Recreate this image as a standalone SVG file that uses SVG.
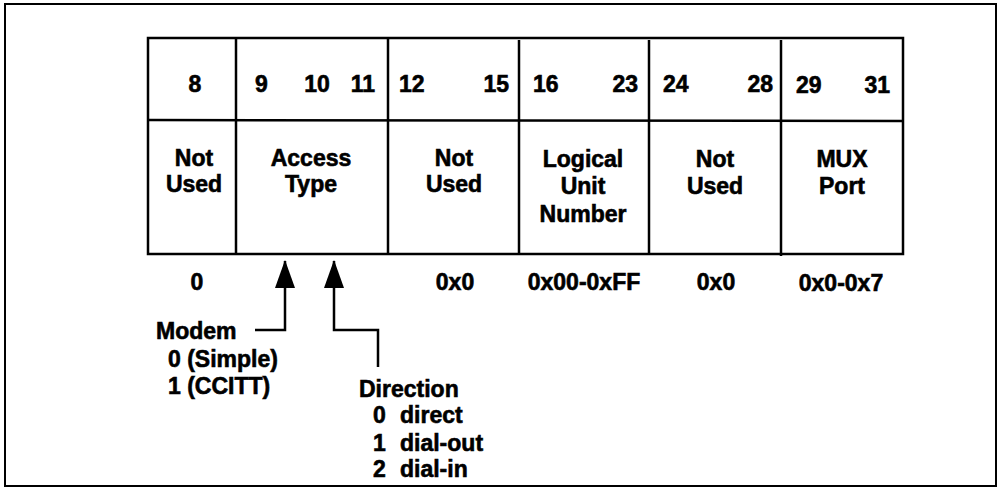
<svg xmlns="http://www.w3.org/2000/svg" width="1001" height="489" viewBox="0 0 1001 489">
<defs>
<style>
text{font-family:"Liberation Sans",Arial,sans-serif;font-weight:bold;font-size:23px;fill:#000;stroke:#000;stroke-width:0.6}
.c{text-anchor:middle}
.e{text-anchor:end}
.ln{stroke:#000;stroke-width:2.5;fill:none}
</style>
<marker id="ah" viewBox="0 0 28 20" refX="27" refY="10" markerWidth="28" markerHeight="20" markerUnits="userSpaceOnUse" orient="auto">
<path d="M0,0 L28,10 L0,20 Z" fill="#000"/>
</marker>
</defs>
<rect width="1001" height="489" fill="#fff"/>
<rect x="5" y="4" width="991" height="482" fill="none" stroke="#000" stroke-width="2"/>
<g id="table">
<rect x="148" y="38" width="755" height="216" class="ln"/>
<line x1="148" y1="120" x2="903" y2="121" class="ln"/>
</g>
<g id="f8">
<line x1="236" y1="38" x2="236" y2="254" class="ln"/>
<text x="195" y="92" class="c">8</text>
<text x="194" y="166" class="c">Not</text>
<text x="194" y="192" class="c">Used</text>
<text x="197" y="290" class="c">0</text>
</g>
<g id="f9">
<line x1="388" y1="38" x2="388" y2="254" class="ln"/>
<text x="255" y="92">9</text>
<text x="317" y="92" class="c">10</text>
<text x="375" y="92" class="e">11</text>
<text x="311" y="166" class="c">Access</text>
<text x="311" y="192" class="c">Type</text>
</g>
<g id="f12">
<line x1="519" y1="40" x2="519" y2="254" class="ln"/>
<text x="399" y="92">12</text>
<text x="509" y="92" class="e">15</text>
<text x="454" y="166" class="c">Not</text>
<text x="454" y="192" class="c">Used</text>
<text x="455" y="290" class="c">0x0</text>
</g>
<g id="f16">
<line x1="649" y1="40" x2="649" y2="255" class="ln"/>
<text x="533" y="92">16</text>
<text x="638" y="92" class="e">23</text>
<text x="583" y="167" class="c">Logical</text>
<text x="583" y="194" class="c">Unit</text>
<text x="583" y="222" class="c">Number</text>
<text x="584" y="290" class="c">0x00-0xFF</text>
</g>
<g id="f24">
<line x1="781" y1="40" x2="781" y2="256" class="ln"/>
<text x="663" y="92">24</text>
<text x="773" y="92" class="e">28</text>
<text x="715" y="167" class="c">Not</text>
<text x="715" y="194" class="c">Used</text>
<text x="716" y="290" class="c">0x0</text>
</g>
<g id="f29">
<text x="796" y="93">29</text>
<text x="890" y="93" class="e">31</text>
<text x="842" y="167" class="c">MUX</text>
<text x="842" y="194" class="c">Port</text>
<text x="841" y="291" class="c">0x0-0x7</text>
</g>
<g id="connectors">
<path d="M255,330 H285 V261" class="ln" marker-end="url(#ah)"/>
<path d="M378,367 V330 H334 V261" class="ln" marker-end="url(#ah)"/>
</g>
<g id="modem">
<text x="156" y="339">Modem</text>
<text x="168" y="367">0 (Simple)</text>
<text x="168" y="394">1 (CCITT)</text>
</g>
<g id="direction">
<text x="359" y="397">Direction</text>
<text x="373" y="423">0</text><text x="400" y="423">direct</text>
<text x="373" y="451">1</text><text x="400" y="451">dial-out</text>
<text x="373" y="477">2</text><text x="400" y="477">dial-in</text>
</g>
</svg>
